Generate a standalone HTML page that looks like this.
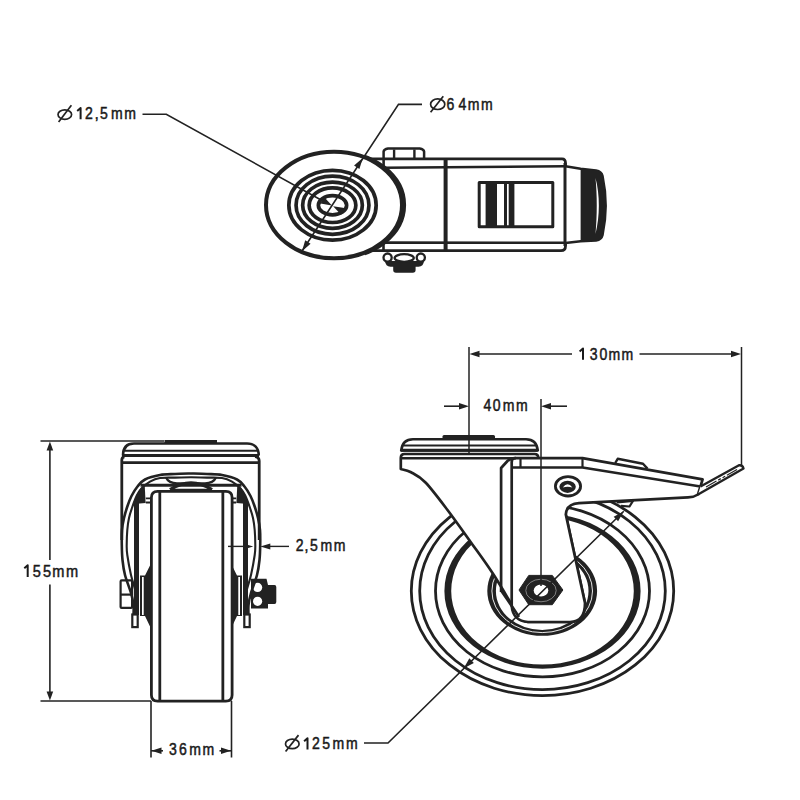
<!DOCTYPE html>
<html><head><meta charset="utf-8"><style>
html,body{margin:0;padding:0;background:#fff;width:800px;height:800px;overflow:hidden}
svg{display:block}
text{font-family:"Liberation Sans",sans-serif;fill:#1a1a1a;stroke:#1a1a1a;stroke-width:0.5px}
</style></head><body>
<svg width="800" height="800" viewBox="0 0 800 800">
<rect width="800" height="800" fill="#fff"/>

<g fill="none" stroke="#222" stroke-linejoin="round">
  <!-- top nut -->
  <path d="M383.6,158 V151.5 Q384,149.3 388,148.6 H419.7 Q423.7,149.3 424.1,151.5 V158" stroke-width="2.5" fill="#fff"/>
  <line x1="394.1" y1="149.5" x2="394.1" y2="158" stroke-width="2.4"/>
  <line x1="414.4" y1="149.5" x2="414.4" y2="158" stroke-width="2.4"/>
  <!-- body outline -->
  <path d="M364,158.8 H562 Q565.5,158.8 565.5,163 V246 Q565.5,250.6 561,250.6 H370" stroke-width="2.8" fill="#fff"/>
  <path d="M383.6,158.8 V167.7 L565,166.3" stroke-width="2.6"/>
  <path d="M383.5,250.6 V242.5 L565,242.8" stroke-width="2.6"/>
  <line x1="445.6" y1="160" x2="445.6" y2="250.6" stroke-width="4"/>
  <!-- window -->
  <rect x="479.2" y="182.6" width="73.6" height="44.2" stroke-width="3"/>
</g>
<g fill="#222">
  <rect x="485.6" y="182" width="11.4" height="46"/>
  <rect x="504" y="182" width="3" height="46"/>
  <rect x="508.7" y="182" width="5.7" height="46"/>
</g>
<!-- right cap -->
<path d="M565.5,166.3 L580.6,168.8 L596,170.5 Q601.5,171.5 602.5,176 C606.5,195 606.5,216 602.5,235 Q601.5,239.5 596,240.5 L580.6,241.2 L565.5,243" stroke="#222" stroke-width="2.6" fill="#fff" stroke-linejoin="round"/>
<path d="M580.6,168.8 L596,170.5 Q601.5,171.5 602.5,176 C606.5,195 606.5,216 602.5,235 Q601.5,239.5 596,240.5 L580.6,241.2 Z" fill="#222"/>
<path d="M595.5,178 C600,195 600,216 595.5,234 C597.2,216 597.2,195 595.5,178 Z" fill="#fff"/>
<line x1="565" y1="163" x2="565" y2="246" stroke="#222" stroke-width="3"/>
<!-- bottom nut -->
<path d="M385,261 Q385.5,266.5 390.5,266.8 H393.2 V270 Q393.2,272.7 396,272.7 H412.8 Q415.6,272.7 415.6,270 V266.8 H418.5 Q423.5,266.5 424,261 Z" fill="#222"/>
<g fill="#fff" stroke="#222" stroke-width="2.3">
  <circle cx="387.6" cy="257.6" r="4.1"/>
  <circle cx="420.8" cy="257.6" r="4.1"/>
  <ellipse cx="404.2" cy="258" rx="9.6" ry="3.8"/>
</g>

<ellipse cx="334" cy="205" rx="68" ry="53.3" fill="#fff" stroke="#222" stroke-width="4"/>
<clipPath id="cpR"><path d="M362,140 L420,140 L420,270 L362,270 L375,205 Z"/></clipPath>
<ellipse cx="336.8" cy="205" rx="67.5" ry="53" fill="none" stroke="#222" stroke-width="3.6" clip-path="url(#cpR)"/>
<ellipse cx="332.5" cy="205.2" rx="43.65" ry="34.9" fill="none" stroke="#222" stroke-width="3.7"/>
<ellipse cx="332.5" cy="205.2" rx="36.45" ry="29.1" fill="none" stroke="#222" stroke-width="3.7"/>
<ellipse cx="332.5" cy="205.2" rx="29.85" ry="23.1" fill="none" stroke="#222" stroke-width="3.7"/>
<ellipse cx="332.5" cy="205.2" rx="23.35" ry="17.3" fill="none" stroke="#222" stroke-width="3.7"/>
<ellipse cx="332.5" cy="205.2" rx="14.15" ry="9.6" fill="none" stroke="#222" stroke-width="3.7"/>
<path d="M142.5,114.3 H166.3 L322,200.5" fill="none" stroke="#222" stroke-width="1.6"/>
<polygon points="331.90,205.60 320.43,203.62 324.10,196.96" fill="#222"/>
<polygon points="333.10,206.30 344.61,208.01 341.10,214.75" fill="#222"/>
<path d="M422,104.4 H398.5 L301.9,251.3" fill="none" stroke="#222" stroke-width="1.6"/>
<polygon points="301.90,251.30 305.23,240.34 310.59,243.83" fill="#222"/>
<polygon points="362.75,158.00 359.42,168.96 354.06,165.47" fill="#222"/>
<ellipse cx="64.8" cy="114.6" rx="6.8" ry="4.7" fill="none" stroke="#222" stroke-width="1.7"/><line x1="58.6" y1="122" x2="71.4" y2="105.2" stroke="#222" stroke-width="1.7"/><text transform="scale(0.9,1)" x="88.11 98.89 107.44 115.56 129.89 144.56" y="119.3" font-size="15.6" text-anchor="middle" xml:space="preserve"> 2,5mm</text><path d="M80.60,119.3 V108.10 L77.20,111.00" fill="none" stroke="#1a1a1a" stroke-width="2" stroke-linejoin="round"/>
<ellipse cx="437.7" cy="104.2" rx="7.1" ry="5.3" fill="none" stroke="#222" stroke-width="1.7"/><line x1="430.6" y1="112.2" x2="443.3" y2="96.2" stroke="#222" stroke-width="1.7"/><text transform="scale(0.9,1)" x="500.33 513.89 526.11 541.00" y="109.8" font-size="15.6" text-anchor="middle" xml:space="preserve">64mm</text>
<line x1="40.5" y1="441" x2="164" y2="441" stroke="#222" stroke-width="1.4"/>
<line x1="40.5" y1="701" x2="151" y2="701" stroke="#222" stroke-width="1.4"/>
<line x1="49.9" y1="449" x2="49.9" y2="560" stroke="#222" stroke-width="1.6"/>
<line x1="49.9" y1="584.5" x2="49.9" y2="692" stroke="#222" stroke-width="1.6"/>
<polygon points="49.90,441.50 53.20,450.50 46.60,450.50" fill="#222"/>
<polygon points="49.90,700.50 46.60,691.50 53.20,691.50" fill="#222"/>
<text transform="scale(0.9,1)" x="29.33 40.89 52.33 64.89 80.22" y="577" font-size="16.2" text-anchor="middle" xml:space="preserve"> 55mm</text><path d="M27.70,577 V565.36 L24.30,568.26" fill="none" stroke="#1a1a1a" stroke-width="2" stroke-linejoin="round"/>
<line x1="151" y1="701" x2="151" y2="757.5" stroke="#222" stroke-width="1.6"/>
<line x1="231.5" y1="701" x2="231.5" y2="757.5" stroke="#222" stroke-width="1.6"/>
<line x1="151" y1="750.8" x2="163" y2="750.8" stroke="#222" stroke-width="1.6"/>
<line x1="219.5" y1="750.8" x2="231.5" y2="750.8" stroke="#222" stroke-width="1.6"/>
<polygon points="151.50,750.80 161.50,747.50 161.50,754.10" fill="#222"/>
<polygon points="231.00,750.80 221.00,754.10 221.00,747.50" fill="#222"/>
<text transform="scale(0.9,1)" x="192.00 203.11 216.89 231.56" y="755.3" font-size="15.6" text-anchor="middle" xml:space="preserve">36mm</text>

<g fill="none" stroke="#222" stroke-linejoin="round" stroke-linecap="butt">
  <rect x="164.5" y="440" width="52.5" height="3.5" fill="#222" stroke="none"/>
  <path d="M123,455.5 C123,448 126.5,443.5 134,443.5 H247 C254.5,443.5 258.7,448 258.7,455.5" stroke-width="2.6"/>
  <line x1="124" y1="450.8" x2="257" y2="450.8" stroke-width="2"/>
  <line x1="122" y1="455.6" x2="259" y2="455.6" stroke-width="3"/>
  <path d="M121.8,540 V460 Q121.8,457 124.5,456.8 M255,456.6 Q259.2,457 259.2,461 V540" stroke-width="2.8"/>
  <line x1="121.8" y1="462.6" x2="259.2" y2="462.6" stroke-width="2.6"/>
</g>


<g fill="none" stroke="#222">
  <path d="M151.4,580 V497.5 Q151.4,491.3 157.6,491.3 H225.9 Q232.1,491.3 232.1,497.5 V695 Q232.1,701.2 225.9,701.2 H157.6 Q151.4,701.2 151.4,695 Z" fill="#fff" stroke-width="2.8"/>
  <line x1="159.8" y1="492" x2="159.8" y2="700" stroke-width="2.8"/>
  <line x1="222.85" y1="492" x2="222.85" y2="700" stroke-width="2.8"/>
  <path d="M170,489.6 Q191,476 212,489.6" stroke-width="3.2"/>
  <line x1="172" y1="489.6" x2="210" y2="489.6" stroke-width="1.6"/>
</g>


<g stroke="none" fill="#222">
  <path d="M141,487.5 L144.8,487 L145.6,503 L134,504 Q136,494 141,487.5 Z"/>
  <rect x="134" y="503" width="5" height="112"/>
  <path d="M150.5,564.5 L145,575.5 H140 V616 H145 L150.5,627.5 Z"/>
</g>
<g fill="#fff" stroke="none">
  <rect x="142" y="577" width="1.7" height="38"/>
</g>
<g fill="none" stroke="#222" stroke-width="1.8">
  <path d="M145.8,498.3 H151 M145.8,502.5 H151"/>
</g>

<g transform="translate(382,0) scale(-1,1)" stroke="none" fill="#222">
  <path d="M141,487.5 L144.8,487 L145.6,503 L134,504 Q136,494 141,487.5 Z"/>
  <rect x="134" y="503" width="5" height="112"/>
  <path d="M150.5,564.5 L145,575.5 H140 V616 H145 L150.5,627.5 Z"/>
</g>
<g transform="translate(382,0) scale(-1,1)" fill="#fff" stroke="none">
  <rect x="142" y="577" width="1.7" height="38"/>
</g>
<g transform="translate(382,0) scale(-1,1)" fill="none" stroke="#222" stroke-width="1.8">
  <path d="M145.8,498.3 H151 M145.8,502.5 H151"/>
</g>

<g fill="none" stroke="#222" stroke-linejoin="round">
  <line x1="140.5" y1="485.25" x2="241.5" y2="485.25" stroke-width="2.8"/>
  <path d="M166,477.5 C168,482 171,483.3 177,483.3 H205 C211,483.3 214,482 216,477.5" stroke-width="2.2"/>
</g>
<g stroke="#222" fill="#fff" stroke-width="2.2" stroke-linejoin="round">
  <rect x="120.6" y="580.4" width="11.5" height="27.5" rx="1"/>
  <line x1="120.6" y1="594.6" x2="132" y2="594.6"/>
</g>
<path d="M251,578.8 H266.5 L268,585 H274.5 Q276.3,585 276.3,587 V602 Q276.3,604 274.5,604 H268 V608.6 H251 Z" fill="#222"/>
<circle cx="257.6" cy="587.4" r="4.6" fill="#fff"/>
<circle cx="257.6" cy="601.3" r="4.6" fill="#fff"/>
<g fill="none" stroke="#222" stroke-linejoin="round">
  <path d="M191.00,473.50 C188.33,473.58 180.17,473.75 175.00,474.00 C169.83,474.25 165.00,474.08 160.00,475.00 C155.00,475.92 148.75,477.58 145.00,479.50 C141.25,481.42 139.75,483.75 137.50,486.50 C135.25,489.25 133.17,492.75 131.50,496.00 C129.83,499.25 128.75,502.33 127.50,506.00 C126.25,509.67 124.92,514.00 124.00,518.00 C123.08,522.00 122.37,525.50 122.00,530.00 C121.63,534.50 121.72,540.00 121.80,545.00 C121.88,550.00 121.97,555.00 122.50,560.00 C123.03,565.00 123.58,569.50 125.00,575.00 C126.42,580.50 129.58,588.00 131.00,593.00 C132.42,598.00 133.08,601.17 133.50,605.00 C133.92,608.83 133.50,614.17 133.50,616.00" stroke-width="2.6"/>
  <path d="M191.00,477.30 C188.33,477.35 180.17,477.48 175.00,477.60 C169.83,477.72 164.17,477.33 160.00,478.00 C155.83,478.67 153.00,479.93 150.00,481.60 C147.00,483.27 144.20,485.68 142.00,488.00 C139.80,490.32 138.42,492.33 136.80,495.50 C135.18,498.67 133.60,503.25 132.30,507.00 C131.00,510.75 129.83,514.17 129.00,518.00 C128.17,521.83 127.68,525.50 127.30,530.00 C126.92,534.50 126.70,540.83 126.70,545.00 C126.70,549.17 126.58,550.00 127.30,555.00 C128.02,560.00 129.55,568.67 131.00,575.00 C132.45,581.33 134.90,588.00 136.00,593.00 C137.10,598.00 137.30,601.50 137.60,605.00 C137.90,608.50 137.77,612.50 137.80,614.00" stroke-width="2.1"/>
  <path d="M191.00,473.50 C193.67,473.58 201.83,473.75 207.00,474.00 C212.17,474.25 217.00,474.08 222.00,475.00 C227.00,475.92 233.25,477.58 237.00,479.50 C240.75,481.42 242.25,483.75 244.50,486.50 C246.75,489.25 248.83,492.75 250.50,496.00 C252.17,499.25 253.25,502.33 254.50,506.00 C255.75,509.67 257.08,514.00 258.00,518.00 C258.92,522.00 259.63,525.50 260.00,530.00 C260.37,534.50 260.28,540.00 260.20,545.00 C260.12,550.00 260.03,555.00 259.50,560.00 C258.97,565.00 258.42,569.50 257.00,575.00 C255.58,580.50 252.42,588.00 251.00,593.00 C249.58,598.00 248.92,601.17 248.50,605.00 C248.08,608.83 248.50,614.17 248.50,616.00" stroke-width="2.6"/>
  <path d="M191.00,477.30 C193.67,477.35 201.83,477.48 207.00,477.60 C212.17,477.72 217.83,477.33 222.00,478.00 C226.17,478.67 229.00,479.93 232.00,481.60 C235.00,483.27 237.80,485.68 240.00,488.00 C242.20,490.32 243.58,492.33 245.20,495.50 C246.82,498.67 248.40,503.25 249.70,507.00 C251.00,510.75 252.17,514.17 253.00,518.00 C253.83,521.83 254.32,525.50 254.70,530.00 C255.08,534.50 255.30,540.83 255.30,545.00 C255.30,549.17 255.42,550.00 254.70,555.00 C253.98,560.00 252.45,568.67 251.00,575.00 C249.55,581.33 247.10,588.00 246.00,593.00 C244.90,598.00 244.70,601.50 244.40,605.00 C244.10,608.50 244.23,612.50 244.20,614.00" stroke-width="2.1"/>
</g>
<g stroke="#222" fill="#fff" stroke-width="2.2">
  <rect x="132.3" y="614.5" width="5.4" height="12.6"/>
  <rect x="244.3" y="614.5" width="5.4" height="12.6"/>
</g>

<line x1="228" y1="546.4" x2="247" y2="546.4" stroke="#222" stroke-width="1.4"/>
<polygon points="253.20,546.40 243.20,549.40 243.20,543.40" fill="#222"/>
<line x1="266" y1="546.4" x2="289" y2="546.4" stroke="#222" stroke-width="1.4"/>
<polygon points="260.30,546.40 270.30,543.40 270.30,549.40" fill="#222"/>
<text transform="scale(0.9,1)" x="332.89 340.56 348.89 362.67 377.44" y="551.4" font-size="15.6" text-anchor="middle" xml:space="preserve">2,5mm</text>

<g fill="none" stroke="#222">
  <ellipse cx="542.5" cy="591" rx="131.2" ry="104.6" stroke-width="2.8"/>
  <ellipse cx="542.5" cy="591" rx="122.8" ry="98.6" stroke-width="2.8"/>
  <ellipse cx="542.5" cy="591" rx="107" ry="85.9" stroke-width="2.8"/>
</g>

<path fill-rule="evenodd" fill="#222" d="M444.4,591 a98.1,77.6 0 1,0 196.2,0 a98.1,77.6 0 1,0 -196.2,0 Z M451.2,591 a91.3,73.6 0 1,0 182.6,0 a91.3,73.6 0 1,0 -182.6,0 Z"/>
<path fill-rule="evenodd" fill="#222" d="M487.30000000000007,591 a54.9,44.8 0 1,0 109.8,0 a54.9,44.8 0 1,0 -109.8,0 Z M495.90000000000003,591 a46.3,38.9 0 1,0 92.6,0 a46.3,38.9 0 1,0 -92.6,0 Z"/>
<ellipse cx="542.2" cy="591" rx="50.3" ry="41.6" fill="none" stroke="#fff" stroke-width="0.9"/>

<g fill="#fff" stroke="#222" stroke-linejoin="round">
  <!-- top plates -->
  <rect x="442.5" y="435" width="52.5" height="4" rx="1.5" fill="#222" stroke="none"/>
  <path d="M401.2,450.5 Q402.5,439.3 413,439.3 H526 Q536.5,439.3 537.8,450.5 Z" stroke-width="2.6"/>
  <line x1="402" y1="445.5" x2="536" y2="445.5" stroke-width="2" />
  <line x1="401" y1="450.2" x2="537.5" y2="450.2" stroke-width="3"/>
  <!-- left leg + body -->
  <path d="M400.8,469 V458 Q400.8,454 404.5,454 H534.5 Q538.3,454 538.3,458 V470 L560,470 L565.8,514.5 L585,603 Q585,622 570,622 H528 Q522,621 519,617 C514.75,609.93 501.53,587.07 493.50,574.60 C485.47,562.13 478.47,552.97 470.80,542.20 C463.13,531.43 455.05,519.95 447.50,510.00 C439.95,500.05 431.58,488.78 425.50,482.50 C419.42,476.22 415.12,474.55 411.00,472.30 C406.88,470.05 402.50,469.55 400.80,469.00 Z" stroke-width="2.7"/>
  <line x1="401" y1="458.2" x2="538" y2="458.2" stroke-width="2.6"/>
</g>
<g fill="#fff" stroke="#222" stroke-linejoin="round">
  <!-- brake lever body + front plate -->
  <path d="M515,458.2 H582.5 L702.6,479.4 L700.5,486.5 L698,494.5 Q694,497.2 688,497.4 L579,503.2 Q566.5,504 565.8,514.5 L585,603 Q585,622 570,622 H528 Q513,621 511.7,606 V462 Q511.7,458.2 515,458.2 Z" stroke-width="2.7"/>
  <path d="M501.1,592 V468 L507.5,461 Q510.5,458.2 516,458.2" stroke-width="2.7" fill="none"/>
  <path d="M512.5,467.5 H582.5 L700.5,486.5" stroke-width="2.5" fill="none"/>
  <line x1="520.5" y1="458.2" x2="520.5" y2="467.5" stroke-width="2.2"/>
  <line x1="582.5" y1="458.2" x2="582.5" y2="467.5" stroke-width="2.2"/>
  <!-- tab on top -->
  <path d="M615.2,463 L617.7,458.8 L643,463.8 L647.5,468.6" stroke-width="2.4" fill="none"/>
  <!-- pedal -->
  <path d="M700.5,486.5 L739,465.3 Q742.5,464.8 743.5,468.5 L698,494.5" stroke-width="2.4"/>
  <line x1="706" y1="487" x2="737" y2="469.5" stroke-width="1.2" stroke-dasharray="12 2 3 2 3 2"/>
  <!-- small tab below -->
  <path d="M617,502.3 L633,500.8 L629.5,506.5 L621,505.8" stroke-width="2.2" fill="none"/>
  <!-- pivot bolt -->
  <ellipse cx="568" cy="486.3" rx="12.6" ry="9.7" stroke-width="2.8"/>
  <ellipse cx="567.6" cy="486.8" rx="8.2" ry="6.1" fill="#222" stroke="none"/>
</g>
<path d="M562.8,487.6 Q567.6,480.8 572.4,487.6 Q567.6,485.8 562.8,487.6 Z" fill="#fff"/>
<path d="M519.00,617.00 C517.50,614.75 512.98,607.92 510.00,603.50 C507.02,599.08 502.58,592.67 501.10,590.50" stroke="#222" stroke-width="2.7" fill="none"/>

<polygon points="519,590 528.75,575.4 552.3,575.4 562.9,590 552.3,604.7 528.75,604.7" fill="#222" stroke="#222" stroke-width="1" stroke-linejoin="round"/>
<ellipse cx="541" cy="590.5" rx="15.2" ry="11.3" fill="none" stroke="#8a8a8a" stroke-width="0.9"/>
<ellipse cx="541" cy="590.5" rx="7.3" ry="6.1" fill="#fff"/>
<line x1="469" y1="347" x2="469" y2="454" stroke="#222" stroke-width="1.5"/>
<line x1="741.5" y1="347" x2="741.5" y2="466" stroke="#222" stroke-width="1.5"/>
<line x1="541" y1="399" x2="541" y2="586" stroke="#222" stroke-width="1.5"/>
<line x1="478" y1="354" x2="572" y2="354" stroke="#222" stroke-width="1.6"/>
<line x1="639.5" y1="354" x2="733" y2="354" stroke="#222" stroke-width="1.6"/>
<polygon points="469.50,354.00 479.50,350.70 479.50,357.30" fill="#222"/>
<polygon points="741.00,354.00 731.00,357.30 731.00,350.70" fill="#222"/>
<text transform="scale(0.9,1)" x="646.33 659.56 670.56 682.56 697.11" y="359.7" font-size="15.6" text-anchor="middle" xml:space="preserve"> 30mm</text><path d="M583.00,359.7 V348.50 L579.60,351.40" fill="none" stroke="#1a1a1a" stroke-width="2" stroke-linejoin="round"/>
<line x1="444" y1="406.2" x2="462" y2="406.2" stroke="#222" stroke-width="1.6"/>
<polygon points="469.00,406.20 459.00,409.50 459.00,402.90" fill="#222"/>
<line x1="548" y1="406.2" x2="567" y2="406.2" stroke="#222" stroke-width="1.6"/>
<polygon points="541.00,406.20 551.00,402.90 551.00,409.50" fill="#222"/>
<text transform="scale(0.9,1)" x="541.56 551.94 565.00 579.89" y="411.5" font-size="15.6" text-anchor="middle" xml:space="preserve">40mm</text>
<path d="M364,743 H388 L623.75,511.25" fill="none" stroke="#222" stroke-width="1.6"/>
<polygon points="623.75,511.25 618.15,521.24 613.66,516.68" fill="#222"/>
<polygon points="463.75,668.30 469.36,658.31 473.84,662.88" fill="#222"/>
<ellipse cx="292.3" cy="743.9" rx="6.8" ry="4.8" fill="none" stroke="#222" stroke-width="1.7"/><line x1="285.6" y1="751.5" x2="298.5" y2="735.1" stroke="#222" stroke-width="1.7"/><text transform="scale(0.9,1)" x="340.22 351.00 362.33 376.00 390.89" y="749.5" font-size="15.6" text-anchor="middle" xml:space="preserve"> 25mm</text><path d="M307.50,749.5 V738.30 L304.10,741.20" fill="none" stroke="#1a1a1a" stroke-width="2" stroke-linejoin="round"/>
</svg>
</body></html>
